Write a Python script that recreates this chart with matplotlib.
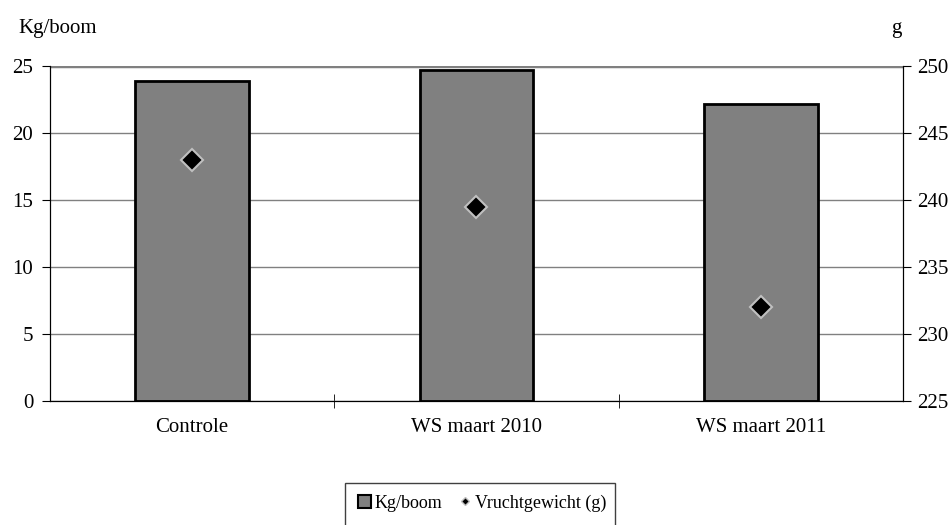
import matplotlib.pyplot as plt
import numpy as np
from matplotlib.lines import Line2D
from matplotlib.patches import Patch, Rectangle

categories = ['Controle', 'WS maart 2010', 'WS maart 2011']
kg_per_boom = [23.9, 24.7, 22.2]
vruchtgewicht = [243.0, 239.5, 232.0]

plt.rcParams['font.family'] = ['Liberation Serif', 'DejaVu Serif']
plt.rcParams['font.size'] = 15

fig = plt.figure(figsize=(9.53, 5.25), dpi=100)
ax = fig.add_axes([50 / 953, 1 - 401 / 525, 853 / 953, 335 / 525])
ax2 = ax.twinx()

x = np.arange(len(categories))
ax.bar(x, kg_per_boom, width=0.4, color='#808080', edgecolor='black', linewidth=2, zorder=2)
ax.set_xlim(-0.5, 2.5)
ax.set_ylim(0, 25)
ax.set_yticks(range(0, 26, 5))
ax.yaxis.grid(True, color='#808080', linewidth=1, zorder=0)
ax.set_axisbelow(True)
ax.spines['top'].set_visible(False)
ax.set_xticks(x)
ax.set_xticklabels(categories)
ax.tick_params(axis='x', length=0, pad=12)
ax.set_xticks([0.5, 1.5], minor=True)
ax.tick_params(axis='x', which='minor', length=10, direction='inout')
ax.tick_params(axis='y', length=6, direction='out', pad=6)

ax2.plot(x, vruchtgewicht, linestyle='none', marker='D', markersize=11,
         markerfacecolor='black', markeredgecolor='#c0c0c0', markeredgewidth=1.5, zorder=3)
ax2.set_ylim(225, 250)
ax2.set_yticks(range(225, 251, 5))
ax2.spines['top'].set_visible(False)
ax2.tick_params(axis='y', length=6, direction='out', pad=4)

# the gridline at 25 acts as the top edge
ax.axhline(25, color='#808080', linewidth=2.5, zorder=1)

fig.text(18 / 953, 1 - 28 / 525, 'Kg/boom', ha='left', va='center')
fig.text(896 / 953, 1 - 28 / 525, 'g', ha='center', va='center')

# legend box runs past the bottom edge of the figure
fig.patches.append(Rectangle((345 / 953, -0.05), 270 / 953, 0.05 + 42 / 525,
                             transform=fig.transFigure, facecolor='white',
                             edgecolor='#404040', linewidth=1))
handles = [Patch(facecolor='#808080', edgecolor='black', linewidth=1.5),
           Line2D([], [], linestyle='none', marker='D', markersize=4,
                  markerfacecolor='black', markeredgecolor='#c0c0c0')]
fig.legend(handles, ['Kg/boom', 'Vruchtgewicht (g)'], loc='center',
           bbox_to_anchor=(482 / 953, 1 - 503 / 525), ncol=2, frameon=False,
           handlelength=0.7, handleheight=0.7, handletextpad=0.2,
           columnspacing=0.9, borderpad=0, fontsize=13)

fig.savefig('out.png', dpi=100)
